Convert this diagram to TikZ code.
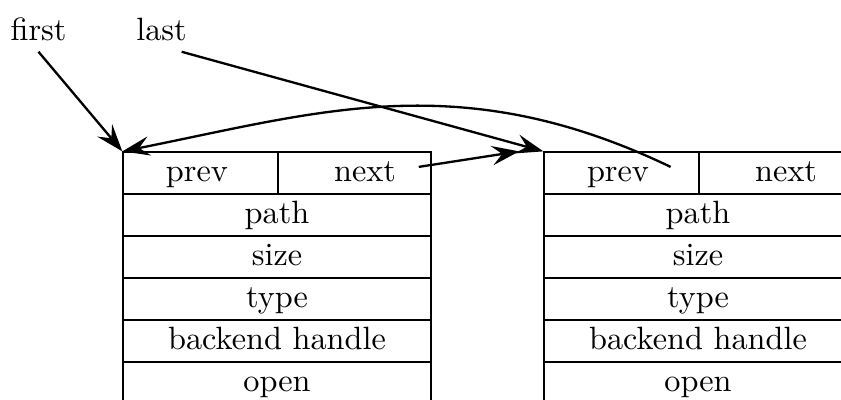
\documentclass[tikz,border=0pt]{standalone}
\usetikzlibrary{arrows.meta,calc}
\begin{document}
\begin{tikzpicture}[x=0.31pt,y=-0.31pt,
  cell/.style={draw, line width=0.4pt, inner sep=0pt, rectangle, minimum height=13.02pt,
    text height=6.94pt, text depth=1.94pt, anchor=center},
  half/.style={cell, minimum width=47.8pt},
  full/.style={cell, minimum width=95.48pt},
  arr/.style={line width=0.72pt, -{Stealth[length=8.5pt,width=6pt,inset=3.2pt]}},
  lbl/.style={anchor=base}]
\path[use as bounding box] (0,0) rectangle (841,399);
\clip (0,0) rectangle (841,399);
% labels
\node[lbl] (first) at (38.5,40) {first};
\node[lbl] (last) at (161.5,40) {last};
% left struct
\node[half, minimum width=48.05pt] (Lprev) at (200.5,173) {prev\hspace*{2.2pt}};
\node[half, minimum width=47.43pt] (Lnext) at (354.5,173) {\hspace*{6.5pt}next};
\foreach \n/\t [count=\i] in {path/path,size/size,type/type,bh/backend handle,open/open}{
  \node[full] (L\n) at (277,{173+42*\i}) {\t};
}
% right struct
\node[half, minimum width=48.05pt] (Rprev) at (621.5,173) {prev\hspace*{2.2pt}};
\node[half, minimum width=47.43pt] (Rnext) at (775.5,173) {\hspace*{6.5pt}next};
\foreach \n/\t [count=\i] in {path/path,size/size,type/type,bh/backend handle,open/open}{
  \node[full] (R\n) at (698,{173+42*\i}) {\t};
}
% pointers
\draw[arr] (first.south) -- (Lprev.north west);
\draw[arr] ($(last.south)!0.55!(last.south east)$) -- (Rprev.north west);
\draw[arr] ([shift={(-4pt,1.9pt)}]Lnext.east) -- ([xshift=-7.5pt]Rprev.north west);
\draw[arr] ([shift={(-9pt,1.9pt)}]Rprev.east) .. controls (460,66) and (320,112) .. (Lprev.north west);
\end{tikzpicture}
\end{document}
